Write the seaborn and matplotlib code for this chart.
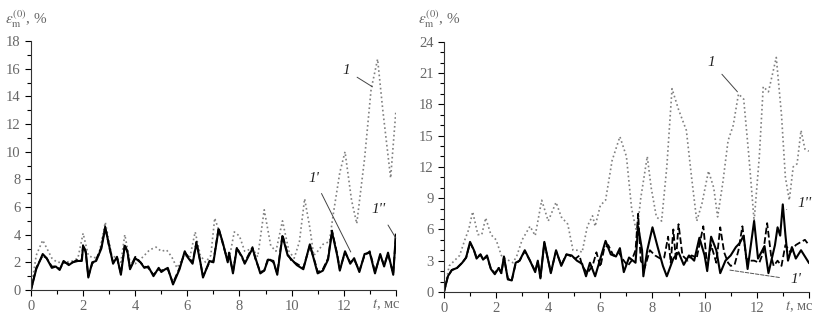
import numpy as np
import pandas as pd
import matplotlib
matplotlib.use('Agg')
import matplotlib.pyplot as plt
import seaborn as sb

# ---- left panel (a) ----
t1_a = [0, 0.2, 0.45, 0.8, 1.0, 1.3, 1.6, 1.8, 2.0, 2.2, 2.4, 2.6, 2.85, 3.1, 3.3, 3.45, 3.6, 3.8, 4.0,
        4.3, 4.55, 4.8, 5.0, 5.2, 5.4, 5.6, 5.9, 6.1, 6.3, 6.5, 6.7, 6.9, 7.05, 7.3, 7.5, 7.6, 7.8, 8.0,
        8.2, 8.5, 8.7, 8.95, 9.2, 9.4, 9.65, 9.9, 10.1, 10.3, 10.5, 10.7, 10.85, 11.0, 11.2, 11.45, 11.6,
        11.85, 12.05, 12.3, 12.5, 12.8, 13.05, 13.3, 13.5, 13.8, 14.0]
e1_a = [0, 2.5, 3.6, 2.3, 2.0, 2.0, 2.1, 2.3, 4.1, 2.5, 2.3, 2.5, 4.9, 2.5, 2.3, 2.0, 4.0, 2.0, 1.9,
        2.4, 2.9, 3.1, 2.8, 2.9, 2.4, 1.6, 2.5, 2.4, 4.2, 2.5, 2.0, 2.5, 5.2, 3.8, 2.5, 2.2, 4.2, 3.9,
        2.8, 3.0, 2.4, 5.8, 3.2, 2.8, 5.0, 2.8, 2.3, 3.5, 6.6, 4.5, 2.5, 2.8, 3.3, 3.5, 5.5,
        8.5, 10.0, 6.5, 4.8, 9.5, 14.5, 16.7, 13.0, 8.1, 12.9]

t2_a = [0, 0.2, 0.45, 0.6, 0.8, 0.95, 1.1, 1.25, 1.45, 1.6, 1.8, 1.95, 2.0, 2.1, 2.2, 2.35, 2.5, 2.7,
        2.85, 3.0, 3.15, 3.3, 3.45, 3.6, 3.7, 3.8, 4.0, 4.2, 4.35, 4.5, 4.7, 4.9, 5.0, 5.15, 5.25, 5.45,
        5.7, 5.9, 6.0, 6.2, 6.35, 6.5, 6.6, 6.85, 7.0, 7.2, 7.35, 7.55, 7.6, 7.75, 7.9, 8.1, 8.2, 8.5,
        8.6, 8.8, 8.95, 9.1, 9.3, 9.45, 9.65, 9.85, 10.0, 10.2, 10.45, 10.7, 10.9, 11.0, 11.2, 11.4,
        11.55, 11.75, 11.85, 12.05, 12.25, 12.4, 12.6, 12.8, 13.0, 13.2, 13.4, 13.55, 13.7, 13.9, 14.0]
e2_a = [0, 1.5, 2.6, 2.3, 1.6, 1.7, 1.45, 2.1, 1.8, 2.0, 2.1, 2.1, 3.2, 2.8, 0.9, 2.0, 2.1, 3.0,
        4.5, 3.2, 1.9, 2.4, 1.1, 3.2, 2.8, 1.5, 2.3, 2.0, 1.6, 1.7, 1.0, 1.6, 1.3, 1.5, 1.6, 0.4,
        1.5, 2.8, 2.4, 1.9, 3.4, 2.0, 0.9, 2.1, 2.0, 4.4, 3.5, 2.0, 2.7, 1.2, 3.0, 2.4, 1.9, 3.0,
        2.4, 1.2, 1.4, 2.2, 2.1, 1.1, 3.9, 2.5, 2.2, 1.8, 1.5, 3.3, 1.9, 1.2, 1.4, 2.2,
        4.2, 2.5, 1.4, 2.8, 1.9, 2.3, 1.3, 2.6, 2.7, 1.2, 2.6, 1.7, 2.7, 1.1, 4.0]
e3_a = [0, 1.6, 2.5, 2.3, 1.7, 1.7, 1.5, 2.0, 1.9, 2.0, 2.2, 2.2, 3.3, 2.7, 1.0, 1.9, 2.2, 3.1,
        4.6, 3.1, 2.0, 2.3, 1.2, 3.3, 2.7, 1.6, 2.4, 2.0, 1.7, 1.6, 1.1, 1.5, 1.4, 1.5, 1.5, 0.5,
        1.6, 2.7, 2.5, 2.0, 3.5, 2.0, 1.0, 2.0, 2.1, 4.5, 3.4, 2.1, 2.6, 1.3, 3.1, 2.3, 2.0, 3.1,
        2.3, 1.3, 1.4, 2.3, 2.0, 1.2, 4.0, 2.6, 2.1, 1.9, 1.6, 3.2, 2.0, 1.3, 1.5, 2.3,
        4.3, 2.6, 1.5, 2.7, 2.0, 2.2, 1.4, 2.5, 2.8, 1.3, 2.5, 1.8, 2.6, 1.2, 3.9]

# ---- right panel (b) ----
t1_b = [0, 0.2, 0.4, 0.6, 0.8, 0.95, 1.1, 1.3, 1.45, 1.6, 1.8, 2.0, 2.2, 2.35, 2.5, 2.65, 2.8, 3.0,
        3.3, 3.5, 3.75, 4.0, 4.3, 4.5, 4.75, 4.95, 5.15, 5.3, 5.5, 5.7, 5.8, 6.0, 6.2, 6.45, 6.75,
        7.0, 7.2, 7.4, 7.55, 7.8, 7.95, 8.15, 8.35, 8.55, 8.75, 9.0, 9.3, 9.5, 9.7, 9.9, 10.15,
        10.35, 10.5, 10.7, 10.9, 11.1, 11.3, 11.5, 11.7, 11.9, 12.1, 12.25, 12.45, 12.75, 12.95,
        13.1, 13.25, 13.4, 13.55, 13.7, 13.85, 14.0]
e1_b = [0, 2.5, 3.0, 3.5, 5.0, 6.0, 7.7, 5.5, 5.5, 7.1, 5.5, 5.0, 3.5, 3.2, 3.0, 2.8, 3.5, 5.0,
        6.3, 5.4, 8.8, 6.8, 8.6, 7.2, 6.5, 4.0, 4.0, 3.8, 6.3, 7.3, 6.3, 8.3, 8.8, 12.6, 14.9,
        13.0, 8.0, 5.6, 9.0, 13.0, 10.0, 7.2, 6.8, 12.0, 19.5, 17.5, 15.5, 11.0, 6.8, 8.5, 11.6,
        10.0, 7.2, 10.5, 14.5, 16.0, 19.0, 18.5, 13.0, 6.8, 13.0, 19.7, 19.2, 22.5, 17.0,
        11.0, 8.8, 12.0, 12.3, 15.5, 13.7, 13.5]

t2_b = [0, 0.15, 0.3, 0.5, 0.7, 0.85, 1.0, 1.15, 1.25, 1.4, 1.5, 1.65, 1.8, 1.95, 2.1, 2.2, 2.3,
        2.45, 2.6, 2.75, 2.9, 3.1, 3.3, 3.5, 3.6, 3.7, 3.85, 4.0, 4.1, 4.3, 4.5, 4.7, 4.9, 5.1,
        5.3, 5.45, 5.6, 5.8, 6.0, 6.2, 6.4, 6.6, 6.75, 6.9, 7.1, 7.35, 7.45, 7.6, 7.65, 7.8, 8.0,
        8.2, 8.4, 8.55, 8.8, 9.0, 9.2, 9.4, 9.6, 9.8, 10.0, 10.1, 10.25, 10.45, 10.6, 10.8, 11.0,
        11.2, 11.35, 11.5, 11.65, 11.9, 12.05, 12.3, 12.45, 12.7, 12.8, 12.9, 13.0, 13.1, 13.2,
        13.35, 13.5, 13.7, 13.8, 14.0]
e2_b = [0, 1.5, 2.1, 2.3, 2.8, 3.3, 4.8, 4.0, 3.2, 3.6, 3.1, 3.5, 2.2, 1.7, 2.3, 1.8, 3.4,
        1.2, 1.1, 2.8, 3.0, 4.0, 3.0, 1.9, 3.0, 1.3, 4.8, 3.0, 1.8, 4.0, 2.5, 3.6, 3.5, 3.0,
        2.7, 1.5, 2.8, 1.5, 3.2, 4.9, 3.6, 3.4, 4.2, 1.9, 3.3, 2.8, 6.3, 4.0, 1.5, 4.0, 6.2,
        4.3, 2.5, 1.5, 3.2, 3.8, 2.6, 3.5, 3.0, 5.2, 3.5, 2.0, 5.3, 4.0, 1.8, 3.0, 3.5,
        4.3, 4.7, 5.4, 2.2, 6.8, 3.2, 4.4, 1.8, 4.5, 6.2, 5.4, 8.4, 5.5, 3.0,
        4.3, 3.2, 4.0, 3.6, 2.8]

t3_b = [0, 0.15, 0.3, 0.5, 0.7, 0.85, 1.0, 1.15, 1.25, 1.4, 1.5, 1.65, 1.8, 1.95, 2.1, 2.2, 2.3,
        2.45, 2.6, 2.75, 2.9, 3.1, 3.3, 3.5, 3.6, 3.7, 3.85, 4.0, 4.1, 4.3, 4.5, 4.7, 4.9, 5.05,
        5.2, 5.3, 5.5, 5.7, 5.85, 6.0, 6.15, 6.3, 6.5, 6.7, 6.9, 7.05, 7.2, 7.35, 7.45, 7.55, 7.7,
        7.9, 8.1, 8.3, 8.45, 8.6, 8.7, 8.8, 8.9, 9.0, 9.15, 9.35, 9.5, 9.7, 9.95, 10.1, 10.25,
        10.45, 10.6, 10.75, 10.9, 11.0, 11.15, 11.3, 11.45, 11.6, 11.75, 11.9, 12.1, 12.25, 12.4,
        12.55, 12.65, 12.8, 12.95, 13.1, 13.3, 13.5, 13.7, 13.85, 14.0]
e3_b = [0, 1.5, 2.1, 2.3, 2.8, 3.3, 4.7, 4.0, 3.3, 3.6, 3.1, 3.4, 2.2, 1.8, 2.3, 1.8, 3.3,
        1.3, 1.1, 2.7, 3.0, 3.9, 3.0, 2.0, 2.9, 1.4, 4.7, 3.0, 1.9, 3.9, 2.6, 3.6, 3.4, 3.2,
        3.5, 2.5, 1.8, 2.5, 3.8, 2.4, 4.2, 4.5, 3.5, 3.8, 3.0, 2.5, 3.0, 4.0, 7.5, 3.0, 2.3,
        4.0, 3.5, 3.2, 3.3, 5.3, 2.8, 6.0, 3.0, 6.5, 3.5, 3.0, 3.5, 3.3, 6.3, 2.5, 4.5,
        2.8, 6.2, 3.8, 2.8, 2.5, 2.6, 4.0, 6.3, 3.2, 3.0, 3.0, 2.8, 3.8, 6.6,
        3.5, 2.5, 3.0, 2.5, 4.5, 3.8, 4.5, 4.8, 5.0, 4.5]

plt.rcParams['font.family'] = ['Liberation Serif', 'DejaVu Serif']
plt.rcParams['mathtext.fontset'] = 'stix'
gray = '#666666'

fig = plt.figure(figsize=(8.33, 3.24), dpi=100)
ax1 = fig.add_axes([0.0372, 0.105, 0.438, 0.768])
ax2 = fig.add_axes([0.533, 0.099, 0.438, 0.772])

# left
sb.lineplot(x=t1_a, y=e1_a, ax=ax1, color='#808080', linestyle=':', linewidth=1.2, sort=False)
sb.lineplot(x=t2_a, y=e3_a, ax=ax1, color='black', linestyle='--', linewidth=1.3, sort=False)
sb.lineplot(x=t2_a, y=e2_a, ax=ax1, color='black', linestyle='-', linewidth=1.5, sort=False)

# right
sb.lineplot(x=t1_b, y=e1_b, ax=ax2, color='#808080', linestyle=':', linewidth=1.2, sort=False)
sb.lineplot(x=t3_b, y=e3_b, ax=ax2, color='black', linestyle='--', linewidth=1.3, sort=False)
sb.lineplot(x=t2_b, y=e2_b, ax=ax2, color='black', linestyle='-', linewidth=1.5, sort=False)

for ax, ymax, ystep in [(ax1, 18, 2), (ax2, 24, 3)]:
    ax.set_xlim(0, 14)
    ax.set_ylim(0, ymax)
    ax.set_xticks(np.arange(0, 15, 2))
    ax.set_xticklabels(['0', '2', '4', '6', '8', '10', '12', ''])
    ax.set_xticks(np.arange(0, 15, 1), minor=True)
    ax.set_yticks(np.arange(0, ymax + 1, ystep))
    ax.set_yticks(np.arange(0, ymax + 1, 1), minor=True)
    ax.tick_params(which='both', direction='out', colors='black', labelcolor=gray, labelsize=10.5)
    ax.tick_params(which='major', length=4, width=0.8)
    ax.tick_params(which='minor', length=3, width=0.8)
    ax.spines['top'].set_visible(False)
    ax.spines['right'].set_visible(False)
    ax.spines['left'].set_color('#333333')
    ax.spines['bottom'].set_color('#333333')
    ax.text(13.65, -0.058, '$t$, мс', transform=ax.get_xaxis_transform(), ha='center', va='center',
            fontsize=10.5, color=gray)
    ax.text(-0.07, 1.09, r'$\varepsilon_{\mathrm{m}}^{(0)}$, %', transform=ax.transAxes,
            ha='left', va='center', fontsize=11, color=gray)

# labels with leader lines
lab = dict(fontsize=11, style='italic', color='#222222', ha='center', va='center')
ax1.annotate('1', xy=(13.1, 14.7), xytext=(12.08, 15.9),
             arrowprops=dict(arrowstyle='-', color='#444444', lw=0.7, shrinkA=4, shrinkB=0), **lab)
ax1.annotate("1'", xy=(12.27, 2.75), xytext=(10.85, 8.1),
             arrowprops=dict(arrowstyle='-', color='#444444', lw=0.7, shrinkA=5, shrinkB=0), **lab)
ax1.annotate("1''", xy=(14.0, 3.75), xytext=(13.35, 5.8),
             arrowprops=dict(arrowstyle='-', color='#444444', lw=0.7, shrinkA=5, shrinkB=0), **lab)

ax2.annotate('1', xy=(11.26, 19.2), xytext=(10.27, 22.0),
             arrowprops=dict(arrowstyle='-', color='#444444', lw=0.7, shrinkA=4, shrinkB=0), **lab)
ax2.annotate("1''", xy=(13.15, 7.9), xytext=(13.83, 8.5),
             arrowprops=dict(arrowstyle='-', color='#444444', lw=0.7, shrinkA=6, shrinkB=0), **lab)
ax2.annotate("1'", xy=(10.95, 2.1), xytext=(13.5, 1.15),
             arrowprops=dict(arrowstyle='-', color='#555555', lw=0.7, ls='--', shrinkA=6, shrinkB=0), **lab)

fig.savefig('out.png', dpi=100)
